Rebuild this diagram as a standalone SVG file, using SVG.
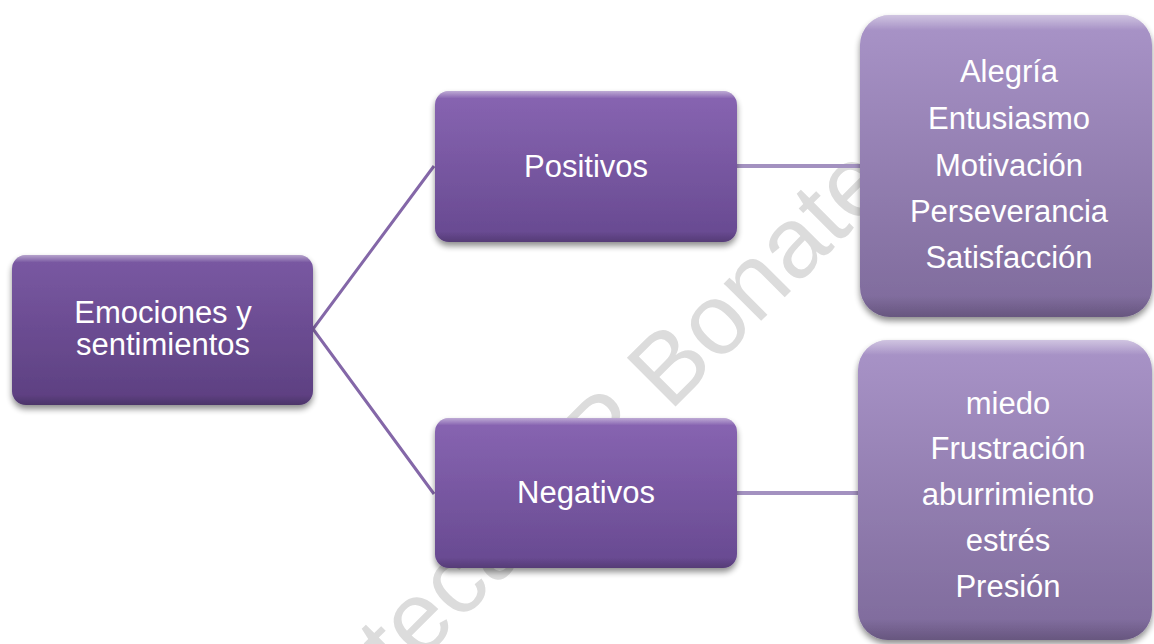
<svg xmlns="http://www.w3.org/2000/svg" width="1154" height="644" viewBox="0 0 1154 644">
  <defs>
    <linearGradient id="gRoot" x1="0" y1="0" x2="0" y2="1">
      <stop offset="0" stop-color="#7a59a3"/>
      <stop offset="1" stop-color="#5c3f80"/>
    </linearGradient>
    <linearGradient id="gMid" x1="0" y1="0" x2="0" y2="1">
      <stop offset="0" stop-color="#8865b2"/>
      <stop offset="1" stop-color="#674990"/>
    </linearGradient>
    <linearGradient id="gRight" x1="0" y1="0" x2="0" y2="1">
      <stop offset="0" stop-color="#a994c8"/>
      <stop offset="1" stop-color="#7e6a9b"/>
    </linearGradient>
    <linearGradient id="gHl" x1="0" y1="0" x2="0" y2="1">
      <stop offset="0" stop-color="#ffffff" stop-opacity="0.45"/>
      <stop offset="0.05" stop-color="#ffffff" stop-opacity="0"/>
      <stop offset="0.93" stop-color="#000000" stop-opacity="0"/>
      <stop offset="1" stop-color="#000000" stop-opacity="0.18"/>
    </linearGradient>
    <filter id="shadow" x="-10%" y="-10%" width="120%" height="130%">
      <feGaussianBlur in="SourceAlpha" stdDeviation="3"/>
      <feOffset dy="4" result="b"/>
      <feComponentTransfer><feFuncA type="linear" slope="0.45"/></feComponentTransfer>
      <feMerge><feMergeNode/><feMergeNode in="SourceGraphic"/></feMerge>
    </filter>
  </defs>
  <style>
    .t { font-family: "Liberation Sans", Arial, sans-serif; font-size: 31px; fill: #ffffff; text-anchor: middle; }
    .wm { font-family: "Liberation Sans", Arial, sans-serif; font-size: 100px; fill: #dcdcdc; }
    .c1 { stroke: #8467a8; stroke-width: 3; fill: none; }
    .c2 { stroke: #a391c0; stroke-width: 4; fill: none; }
  </style>
  <rect width="1154" height="644" fill="#ffffff"/>
  <text class="wm" x="227" y="855" transform="rotate(-45 227 855)">Biblioteca UP Bonaterra</text>

  <g id="connectors">
    <polyline class="c1" points="434,166 313,329 434,494"/>
    <line class="c2" x1="737" y1="166" x2="862" y2="166"/>
    <line class="c2" x1="737" y1="493" x2="860" y2="493"/>
  </g>

  <g id="root">
    <rect x="12" y="255" width="301" height="150" rx="14" fill="url(#gRoot)" filter="url(#shadow)"/>
    <rect x="12" y="255" width="301" height="150" rx="14" fill="url(#gHl)"/>
    <text class="t" x="163" y="323">Emociones y</text>
    <text class="t" x="163" y="355">sentimientos</text>
  </g>

  <g id="positivos">
    <rect x="435" y="91" width="302" height="151" rx="14" fill="url(#gMid)" filter="url(#shadow)"/>
    <rect x="435" y="91" width="302" height="151" rx="14" fill="url(#gHl)"/>
    <text class="t" x="586" y="177">Positivos</text>
  </g>

  <g id="negativos">
    <rect x="435" y="418" width="302" height="150" rx="14" fill="url(#gMid)" filter="url(#shadow)"/>
    <rect x="435" y="418" width="302" height="150" rx="14" fill="url(#gHl)"/>
    <text class="t" x="586" y="503">Negativos</text>
  </g>

  <g id="positivos-list">
    <rect x="860" y="15" width="292" height="302" rx="30" fill="url(#gRight)" filter="url(#shadow)"/>
    <rect x="860" y="15" width="292" height="302" rx="30" fill="url(#gHl)"/>
    <text class="t" x="1009" y="82">Alegría</text>
    <text class="t" x="1009" y="129">Entusiasmo</text>
    <text class="t" x="1009" y="176">Motivación</text>
    <text class="t" x="1009" y="222">Perseverancia</text>
    <text class="t" x="1009" y="268">Satisfacción</text>
  </g>

  <g id="negativos-list">
    <rect x="858" y="340" width="294" height="300" rx="30" fill="url(#gRight)" filter="url(#shadow)"/>
    <rect x="858" y="340" width="294" height="300" rx="30" fill="url(#gHl)"/>
    <text class="t" x="1008" y="414">miedo</text>
    <text class="t" x="1008" y="459">Frustración</text>
    <text class="t" x="1008" y="505">aburrimiento</text>
    <text class="t" x="1008" y="551">estrés</text>
    <text class="t" x="1008" y="597">Presión</text>
  </g>
</svg>
